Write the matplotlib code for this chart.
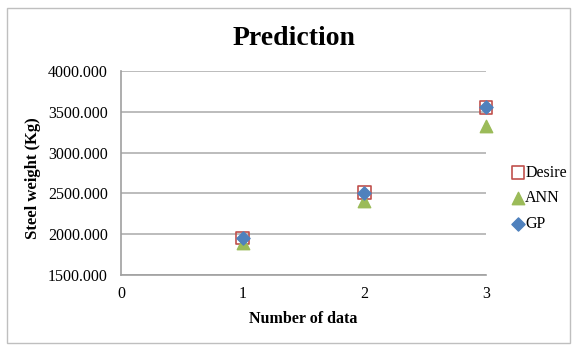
import matplotlib
matplotlib.use("Agg")
import matplotlib.pyplot as plt
from matplotlib.patches import Rectangle
from matplotlib.ticker import FuncFormatter

x = [1, 2, 3]
desire = [1952, 2511, 3555]
ann = [1890, 2410, 3320]
gp = [1950, 2510, 3562]
xticks = [0, 1, 2, 3]
yticks = [1500, 2000, 2500, 3000, 3500, 4000]

plt.rcParams['font.family'] = ['Liberation Serif', 'DejaVu Serif']

fig = plt.figure(figsize=(5.77, 3.45), dpi=100)
fig.patches.append(Rectangle((7/577, 2/345), 563/577, 335/345, transform=fig.transFigure,
                             fill=False, edgecolor='#BFBFBF', linewidth=1.0))
ax = fig.add_axes([121/577, 1 - 275/345, 365/577, 204/345])
ax.set_xlim(0, 3)
ax.set_ylim(1500, 4000)
ax.set_xticks(xticks)
ax.set_yticks(yticks)
ax.yaxis.set_major_formatter(FuncFormatter(lambda v, p: f"{v:.3f}"))
ax.grid(axis='y', color='#B0B0B0', linewidth=1.2)
ax.set_axisbelow(True)
for s in ['top', 'right']:
    ax.spines[s].set_visible(False)
for s in ['left', 'bottom']:
    ax.spines[s].set_color('#A0A0A0')
    ax.spines[s].set_linewidth(1.2)
ax.tick_params(length=0, labelsize=11.5, pad=8)
ax.tick_params(axis='y', pad=9.5)

ax.scatter(x, desire, marker='s', s=80, facecolor='none', edgecolor='#C0504D', linewidth=1.2,
           label='Desire', zorder=3, clip_on=False)
ax.scatter(x, ann, marker='^', s=80, color='#9BBB59', label='ANN', zorder=3, clip_on=False)
ax.scatter(x, gp, marker='D', s=45, color='#4F81BD', label='GP', zorder=4, clip_on=False)

ax.set_title('Prediction', fontsize=20, fontweight='bold', pad=19, x=(294-121)/365)
ax.set_xlabel('Number of data', fontsize=11.5, fontweight='bold')
ax.set_ylabel('Steel weight (Kg)', fontsize=12, fontweight='bold')
ax.xaxis.set_label_coords((303-121)/365, -0.177)
ax.yaxis.set_label_coords(-(121-33)/365, (275-178)/204)
ax.yaxis.label.set_va('center')

leg = ax.legend(loc='center left', bbox_to_anchor=(1.068, 0.375), frameon=False, fontsize=11.5,
                handletextpad=0.0, handlelength=0.9, labelspacing=0.62, borderaxespad=0,
                borderpad=0)

fig.savefig('out.png', dpi=100)
